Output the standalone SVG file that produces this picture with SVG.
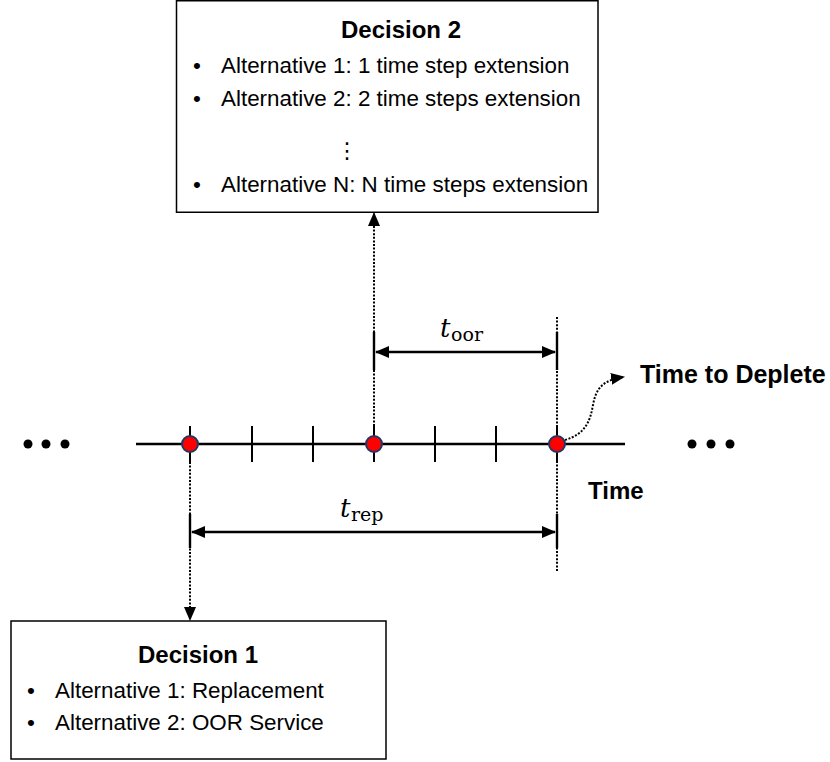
<svg xmlns="http://www.w3.org/2000/svg" width="830" height="762" viewBox="0 0 830 762">
<style>
.box{fill:#fff;stroke:#000;stroke-width:1.5}
.title{font-family:"Liberation Sans",Arial,sans-serif;font-weight:bold;font-size:24px;fill:#000}
.item{font-family:"Liberation Sans",Arial,sans-serif;font-size:22.4px;fill:#000}
.lbl{font-family:"Liberation Sans",Arial,sans-serif;font-weight:bold;font-size:24px;fill:#000}
.dot{stroke:#000;stroke-width:2;stroke-dasharray:2 1.6;fill:none}
.solid{stroke:#000;stroke-width:2.4;fill:none}
.axis{stroke:#000;stroke-width:2.5;fill:none}
.tick{stroke:#000;stroke-width:2;fill:none}
.ev{fill:#FF0000;stroke:#203864;stroke-width:2}
.math{font-family:"DejaVu Serif","Liberation Serif",serif;fill:#000}
.ell{fill:#000}
</style>
<defs>
<marker id="ah" viewBox="0 0 14 13" refX="13" refY="6.5" markerWidth="14" markerHeight="13" markerUnits="userSpaceOnUse" orient="auto-start-reverse">
<path d="M0,0.5 L14,6.5 L0,12.5 Z" fill="#000"/>
</marker>
</defs>

<g id="decision2">
<rect class="box" x="176.5" y="0.75" width="421.5" height="211.5"/>
<text class="title" x="401" y="38" text-anchor="middle">Decision 2</text>
<text class="item" x="193" y="73">•</text>
<text class="item" x="221" y="73">Alternative 1: 1 time step extension</text>
<text class="item" x="193" y="106">•</text>
<text class="item" x="221" y="106">Alternative 2: 2 time steps extension</text>
<text class="item" x="347" y="158" text-anchor="middle" style="font-family:'DejaVu Sans',sans-serif;font-size:22px">⋮</text>
<text class="item" x="193" y="192">•</text>
<text class="item" x="221" y="192">Alternative N: N time steps extension</text>
</g>

<g id="decision1">
<rect class="box" x="11" y="621" width="375" height="138"/>
<text class="title" x="198" y="663" text-anchor="middle">Decision 1</text>
<text class="item" x="27" y="698">•</text>
<text class="item" x="55" y="698">Alternative 1: Replacement</text>
<text class="item" x="27" y="730">•</text>
<text class="item" x="55" y="730">Alternative 2: OOR Service</text>
</g>

<g id="timeline">
<circle class="ell" cx="28" cy="444" r="4.5"/>
<circle class="ell" cx="46" cy="444" r="4.5"/>
<circle class="ell" cx="65" cy="444" r="4.5"/>
<line class="axis" x1="136" y1="444" x2="625" y2="444"/>
<line class="tick" x1="190" y1="426" x2="190" y2="462"/>
<line class="tick" x1="252" y1="426" x2="252" y2="462"/>
<line class="tick" x1="313" y1="426" x2="313" y2="462"/>
<line class="tick" x1="374" y1="426" x2="374" y2="462"/>
<line class="tick" x1="435" y1="426" x2="435" y2="462"/>
<line class="tick" x1="496" y1="426" x2="496" y2="462"/>
<line class="tick" x1="557" y1="426" x2="557" y2="462"/>
<circle class="ell" cx="692" cy="444" r="4.5"/>
<circle class="ell" cx="711" cy="444" r="4.5"/>
<circle class="ell" cx="730" cy="444" r="4.5"/>
<text class="lbl" x="588" y="499">Time</text>
</g>

<g id="connectors">
<line class="dot" x1="374" y1="444" x2="374" y2="213" marker-end="url(#ah)"/>
<line class="dot" x1="190" y1="444" x2="190" y2="620" marker-end="url(#ah)"/>
<line class="dot" x1="557" y1="317" x2="557" y2="571"/>
<line class="solid" x1="374" y1="332" x2="374" y2="370"/>
<line class="solid" x1="557" y1="332" x2="557" y2="370"/>
<line class="solid" x1="190" y1="514" x2="190" y2="548"/>
<line class="solid" x1="557" y1="514" x2="557" y2="548"/>
<line class="solid" x1="376" y1="352" x2="555" y2="352" marker-start="url(#ah)" marker-end="url(#ah)"/>
<line class="solid" x1="192" y1="532" x2="555" y2="532" marker-start="url(#ah)" marker-end="url(#ah)"/>
<path class="dot" d="M565,440 C585,434 590,422 593,405 C596,388 603,380 624,377" marker-end="url(#ah)"/>
</g>

<g id="events">
<circle class="ev" cx="190" cy="444" r="8"/>
<circle class="ev" cx="374" cy="444" r="8"/>
<circle class="ev" cx="557" cy="444" r="8"/>
</g>

<g id="labels">
<text class="math" x="440" y="337" style="font-style:italic;font-size:26px">t</text>
<text class="math" x="451" y="341" style="font-size:19px">oor</text>
<text class="math" x="340" y="517" style="font-style:italic;font-size:26px">t</text>
<text class="math" x="351" y="521" style="font-size:19px">rep</text>
<text class="lbl" x="640" y="383" style="font-size:25px">Time to Deplete</text>
</g>
</svg>
